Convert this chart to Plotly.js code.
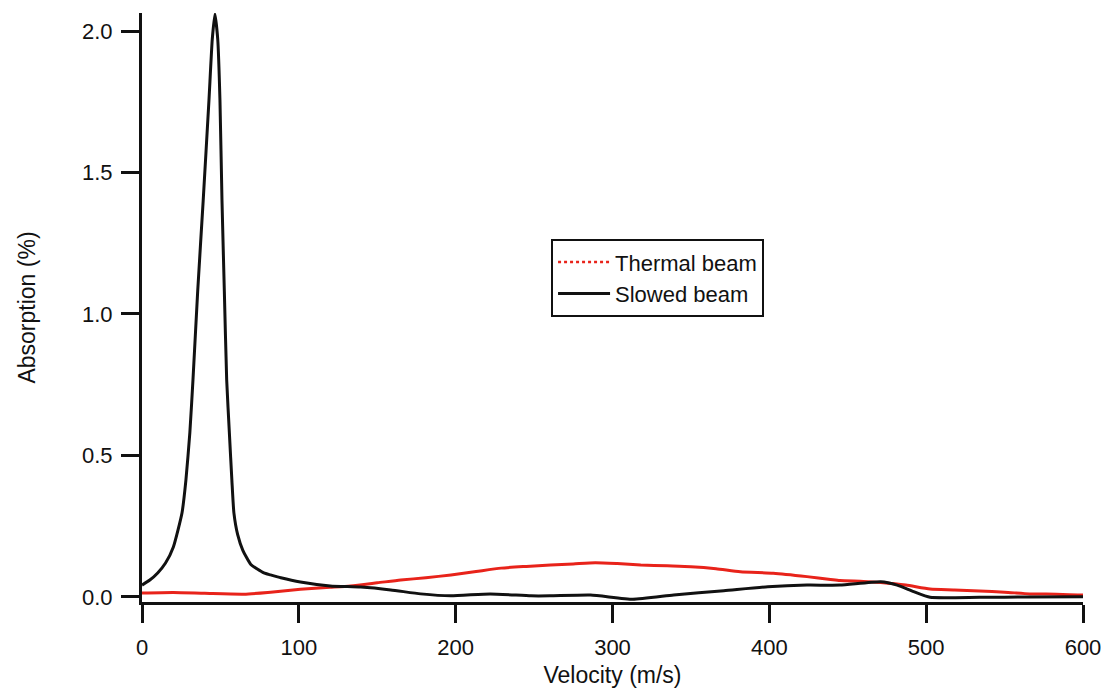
<!DOCTYPE html>
<html>
<head>
<meta charset="utf-8">
<script src="https://cdn.plot.ly/plotly-3.0.1.min.js"></script>
<style>html,body{margin:0;padding:0;background:#fff;}#chart{width:1109px;height:696px;}</style>
</head>
<body>
<div id="chart"></div>
<script>
// Slowed beam (black)
const slowedX = [0, 5, 10, 15, 20, 25.5, 28, 30.5, 32.5, 35.5, 39, 42.7, 44.8, 46.5, 48.3, 49.7, 51, 52.5, 54, 55.8, 57.3, 58.6, 61, 64.3, 69.4, 77.7, 82, 88.5, 101, 120, 139.5, 158.6, 177.7, 196.8, 222, 248, 260, 286, 313, 339, 371, 399, 424, 445, 471, 481.5, 492, 502.5, 534, 566, 600];
const slowedY = [0.042, 0.06, 0.085, 0.12, 0.177, 0.297, 0.413, 0.58, 0.767, 1.08, 1.40, 1.756, 1.97, 2.06, 1.97, 1.756, 1.40, 1.08, 0.767, 0.57, 0.413, 0.297, 0.22, 0.165, 0.115, 0.085, 0.078, 0.068, 0.053, 0.039, 0.035, 0.025, 0.011, 0.004, 0.011, 0.004, 0.004, 0.007, -0.008, 0.007, 0.022, 0.036, 0.042, 0.042, 0.054, 0.042, 0.019, -0.001, -0.001, 0.0, 0.001];
// Thermal beam (red)
const thermalX = [0, 20, 40, 65, 82, 101, 120, 133, 150, 165, 181, 197, 213, 229, 245, 260.5, 275, 289, 303, 318, 335, 350, 366, 381.5, 402.5, 424, 439, 445, 460, 471, 487, 502.5, 518, 534, 550, 566, 583, 600];
const thermalY = [0.014, 0.016, 0.013, 0.01, 0.017, 0.027, 0.034, 0.039, 0.05, 0.06, 0.068, 0.078, 0.09, 0.102, 0.108, 0.113, 0.117, 0.121, 0.118, 0.113, 0.11, 0.107, 0.1, 0.089, 0.084, 0.072, 0.062, 0.058, 0.055, 0.051, 0.042, 0.028, 0.025, 0.021, 0.017, 0.011, 0.01, 0.007];

const xTicks = [0, 100, 200, 300, 400, 500, 600];
const yTicks = [0, 0.5, 1.0, 1.5, 2.0];
const yTickText = ['0.0', '0.5', '1.0', '1.5', '2.0'];

const FONT = 'Liberation Sans, Arial, Helvetica, sans-serif';

const traces = [
  {x: [null], y: [null], type: 'scatter', mode: 'lines', name: 'Thermal beam',
   line: {color: '#e8231a', width: 2.5, dash: 'dot'}, hoverinfo: 'skip'},
  {x: thermalX, y: thermalY, type: 'scatter', mode: 'lines', name: 'Thermal beam data', showlegend: false,
   line: {color: '#e8231a', width: 3, shape: 'spline', smoothing: 0.6}},
  {x: slowedX, y: slowedY, type: 'scatter', mode: 'lines', name: 'Slowed beam',
   line: {color: '#111111', width: 3, shape: 'spline', smoothing: 0.5}}
];

const layout = {
  width: 1109, height: 696,
  paper_bgcolor: '#ffffff', plot_bgcolor: '#ffffff',
  margin: {l: 142, r: 26, t: 13, b: 94},
  font: {family: FONT, size: 22, color: '#111'},
  showlegend: true,
  legend: {
    x: 0.4347, y: 0.616, xanchor: 'left', yanchor: 'top',
    bgcolor: '#ffffff', bordercolor: '#111', borderwidth: 2,
    font: {family: FONT, size: 22, color: '#111'},
    itemwidth: 52,
    tracegroupgap: 0
  },
  xaxis: {
    range: [0, 600], tickvals: xTicks, ticktext: xTicks.map(String),
    showgrid: false, zeroline: false, showline: true, linecolor: '#111', linewidth: 3,
    ticks: 'outside', ticklen: 18, tickwidth: 3, tickcolor: '#111',
    ticklabelstandoff: 6,
    tickfont: {family: FONT, size: 22, color: '#111'},
    title: {text: 'Velocity (m/s)', font: {family: FONT, size: 23, color: '#111'}, standoff: 8}
  },
  yaxis: {
    range: [-0.0177, 2.0636], tickvals: yTicks, ticktext: yTickText,
    showgrid: false, zeroline: false, showline: true, linecolor: '#111', linewidth: 3,
    ticks: 'outside', ticklen: 18, tickwidth: 3, tickcolor: '#111',
    ticklabelstandoff: 4,
    tickfont: {family: FONT, size: 22, color: '#111'},
    title: {text: 'Absorption (%)', font: {family: FONT, size: 23, color: '#111'}, standoff: 40}
  }
};

Plotly.newPlot('chart', traces, layout, {displayModeBar: false, staticPlot: true});
</script>
</body>
</html>
